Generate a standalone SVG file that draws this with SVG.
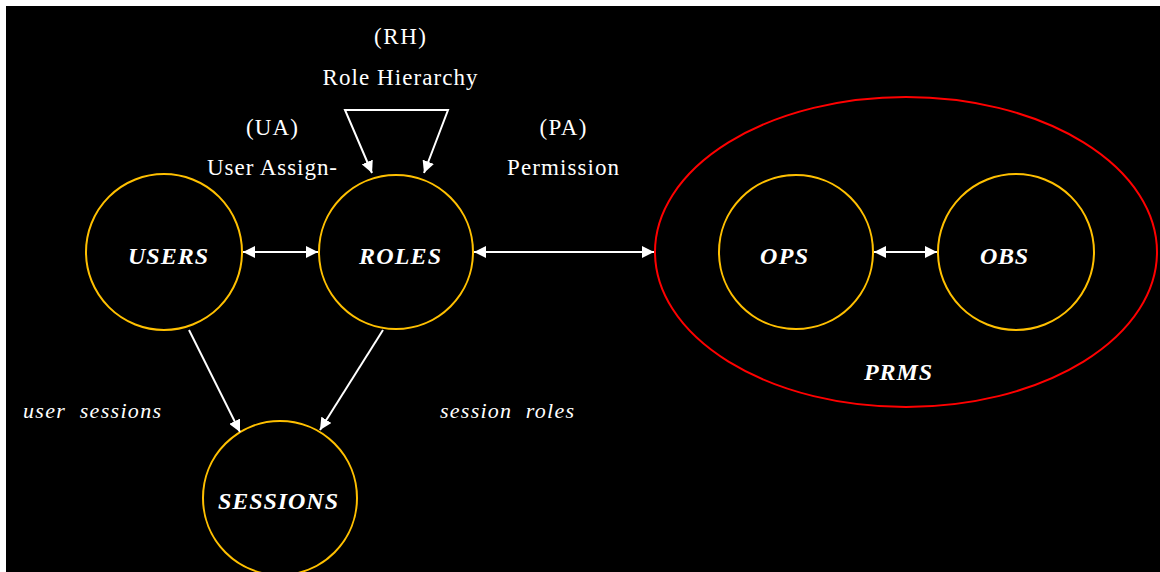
<svg xmlns="http://www.w3.org/2000/svg" width="1160" height="572" viewBox="0 0 1160 572">
<defs>
<marker id="ah" viewBox="0 0 12 12" refX="12" refY="6" markerWidth="12" markerHeight="12" markerUnits="userSpaceOnUse" orient="auto-start-reverse">
<path d="M0,0 L12,6 L0,12 Z" fill="#fff"/>
</marker>
<style>
text{font-family:'Liberation Serif','Times New Roman','DejaVu Serif',serif}
.n{fill:none;stroke:#FFC000;stroke-width:2}
.lbl{font-size:24px;font-weight:bold;font-style:italic;fill:#fff;text-anchor:middle}
.t{font-size:23px;fill:#fff;text-anchor:middle}
.it{font-size:22px;font-style:italic;fill:#fff;white-space:pre}
.c{fill:none;stroke:#fff;stroke-width:2}
</style>
</defs>
<rect x="0" y="0" width="1160" height="572" fill="#fff"/>
<rect x="6" y="6" width="1154" height="566" fill="#000"/>
<g id="prms">
<ellipse cx="906" cy="252" rx="251" ry="155" fill="none" stroke="#FF0000" stroke-width="2"/>
<text class="lbl" x="898" y="380" textLength="68">PRMS</text>
</g>
<g id="users"><circle class="n" cx="164" cy="252" r="78"/><text class="lbl" x="168" y="264" textLength="80">USERS</text></g>
<g id="roles"><circle class="n" cx="396" cy="252" r="77"/><text class="lbl" x="400" y="264" textLength="82">ROLES</text></g>
<g id="sessions"><circle class="n" cx="280" cy="498" r="77"/><text class="lbl" x="278" y="509" textLength="120">SESSIONS</text></g>
<g id="ops"><circle class="n" cx="796" cy="252" r="77"/><text class="lbl" x="784" y="264" textLength="48">OPS</text></g>
<g id="obs"><circle class="n" cx="1016" cy="252" r="78"/><text class="lbl" x="1004" y="264" textLength="48">OBS</text></g>
<g id="connectors">
<line class="c" x1="243" y1="252" x2="318" y2="252" marker-start="url(#ah)" marker-end="url(#ah)"/>
<line class="c" x1="474" y1="252" x2="654" y2="252" marker-start="url(#ah)" marker-end="url(#ah)"/>
<line class="c" x1="874" y1="252" x2="937" y2="252" marker-start="url(#ah)" marker-end="url(#ah)"/>
<polyline class="c" points="372,173 345,110 448,110 424,173" marker-start="url(#ah)" marker-end="url(#ah)"/>
<line class="c" x1="189" y1="330" x2="240" y2="432" marker-end="url(#ah)"/>
<line class="c" x1="383" y1="330" x2="320" y2="430" marker-end="url(#ah)"/>
</g>
<g id="labels">
<text class="t" x="400" y="44" textLength="52">(RH)</text>
<text class="t" x="400" y="85" textLength="155">Role Hierarchy</text>
<text class="t" x="272" y="135" textLength="52">(UA)</text>
<text class="t" x="272" y="175" textLength="130">User Assign-</text>
<text class="t" x="563" y="135" textLength="47">(PA)</text>
<text class="t" x="563" y="175" textLength="112">Permission</text>
<text class="it" x="23" y="418" textLength="138">user  sessions</text>
<text class="it" x="440" y="418" textLength="134">session  roles</text>
</g>
</svg>
